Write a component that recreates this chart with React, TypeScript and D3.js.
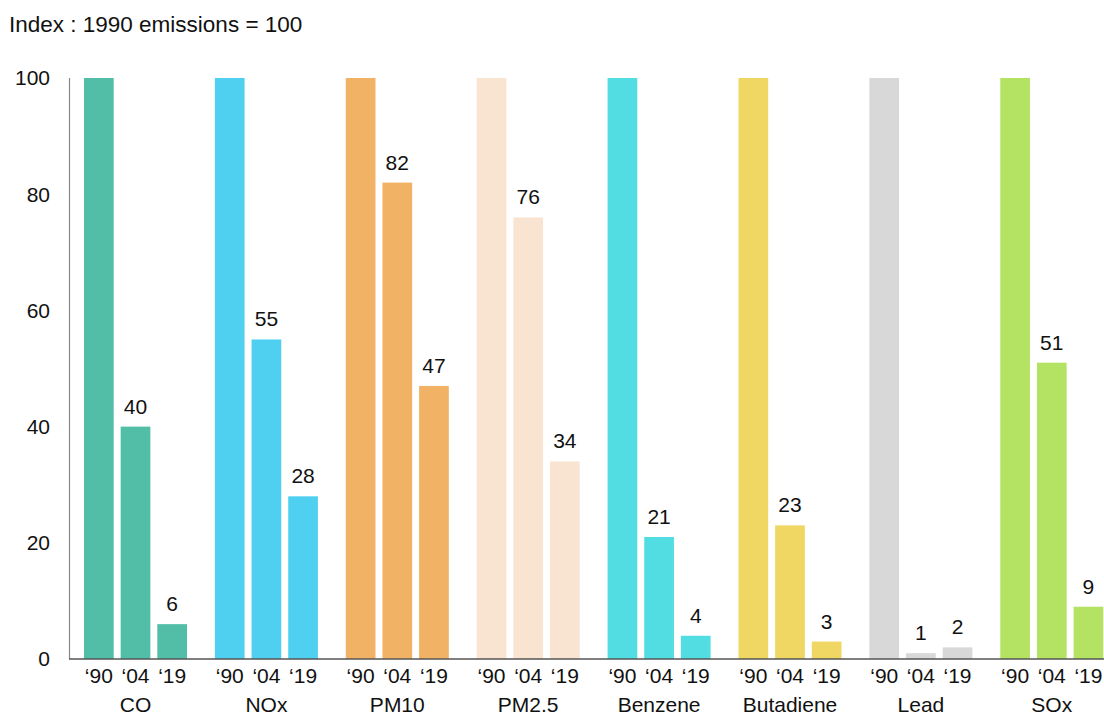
import React from "react";
import * as d3 from "d3";

// Emission indices, 1990 = 100
const pollutants = ["CO", "NOx", "PM10", "PM2.5", "Benzene", "Butadiene", "Lead", "SOx"];
const years = ["‘90", "‘04", "‘19"];
const values1990 = [100, 100, 100, 100, 100, 100, 100, 100];
const values2004 = [40, 55, 82, 76, 21, 23, 1, 51];
const values2019 = [6, 28, 47, 34, 4, 3, 2, 9];
const barColors = ["#52bea8", "#4fd0f0", "#f2b265", "#f9e4d2", "#52dde3", "#f0d662", "#d8d8d8", "#b4e363"];
const yTicks = [0, 20, 40, 60, 80, 100];
const titleText = "Index : 1990 emissions = 100";

const W = 1104;
const H = 715;
const FONT = "'Liberation Sans', Arial, Helvetica, sans-serif";

export default function App() {
  const y = d3.scaleLinear().domain([0, 100]).range([659, 78]);
  const x0 = d3.scaleBand<string>().domain(pollutants).range([84, 1103.3]).paddingInner(0.213).paddingOuter(0);
  const x1 = d3.scaleBand<string>().domain(years).range([0, x0.bandwidth()]).paddingInner(0.19).paddingOuter(0);

  const series = [values1990, values2004, values2019];

  return (
    <svg width={W} height={H} style={{ position: "absolute", left: 0, top: 0, background: "#fff" }} fontFamily={FONT}>
      <text x={9} y={32} fontSize={22.5} fill="#111">{titleText}</text>

      {yTicks.map((t) => (
        <text key={t} x={50} y={y(t)} dy="0.35em" textAnchor="end" fontSize={21} fill="#111">{t}</text>
      ))}

      {pollutants.map((p, i) => {
        const gx = x0(p)!;
        return (
          <g key={p} transform={`translate(${gx},0)`}>
            {years.map((yr, j) => {
              const v = series[j][i];
              const bx = x1(yr)!;
              return (
                <g key={yr}>
                  <rect x={bx} y={y(v)} width={x1.bandwidth()} height={y(0) - y(v)} fill={barColors[i]} />
                  {j > 0 && (
                    <text x={bx + x1.bandwidth() / 2} y={y(v) - 13} textAnchor="middle" fontSize={21} fill="#111">{v}</text>
                  )}
                  <text x={bx + x1.bandwidth() / 2} y={683} textAnchor="middle" fontSize={21} fill="#111">{yr}</text>
                </g>
              );
            })}
            <text x={x0.bandwidth() / 2} y={712} textAnchor="middle" fontSize={21} fill="#111">{p}</text>
          </g>
        );
      })}

      <line x1={69.5} x2={69.5} y1={78} y2={659} stroke="#888" strokeWidth={1.2} />
      <line x1={69} x2={1104} y1={659} y2={659} stroke="#555" strokeWidth={1.5} />
    </svg>
  );
}
